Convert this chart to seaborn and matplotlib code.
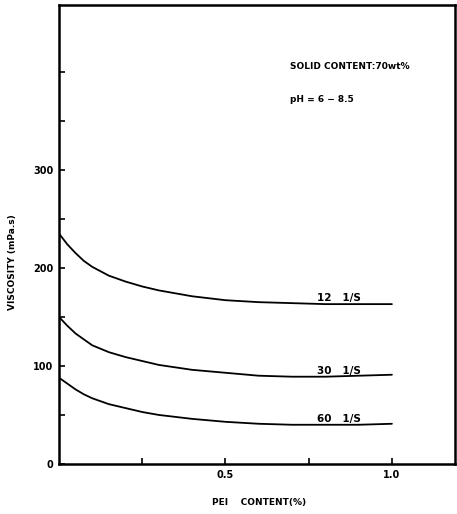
import numpy as np
import pandas as pd
import matplotlib
matplotlib.use("Agg")
import matplotlib.pyplot as plt
import seaborn as sns

pei_content = [0.0, 0.025, 0.05, 0.075, 0.1, 0.15, 0.2, 0.25, 0.3, 0.4, 0.5, 0.6, 0.7, 0.8, 0.9, 1.0]
visc_12 = [235, 224, 215, 207, 201, 192, 186, 181, 177, 171, 167, 165, 164, 163, 163, 163]
visc_30 = [150, 141, 133, 127, 121, 114, 109, 105, 101, 96, 93, 90, 89, 89, 90, 91]
visc_60 = [88, 82, 76, 71, 67, 61, 57, 53, 50, 46, 43, 41, 40, 40, 40, 41]
series_labels = ["12   1/S", "30   1/S", "60   1/S"]
x_ticks = [0.5, 1.0]
x_tick_labels = ["0.5", "1.0"]
y_ticks = [0, 100, 200, 300]

df = pd.concat([
    pd.DataFrame({"x": pei_content, "y": v, "s": lab})
    for v, lab in zip([visc_12, visc_30, visc_60], series_labels)
])

sns.set_theme(style="ticks")
plt.rcParams["font.family"] = ["DejaVu Sans"]
plt.rcParams["text.color"] = "black"
plt.rcParams["axes.labelcolor"] = "black"
plt.rcParams["xtick.color"] = "black"
plt.rcParams["ytick.color"] = "black"

fig = plt.figure(figsize=(4.57, 5.14), dpi=100)
ax = fig.add_axes([0.129, 0.0973, 0.867, 0.893])
sns.lineplot(data=df, x="x", y="y", hue="s", palette=["black"] * 3,
             linewidth=1.3, legend=False, ax=ax, sort=True)

ax.set_xlim(0, 1.19)
ax.set_ylim(0, 468)
ax.set_xticks(x_ticks)
ax.set_xticklabels(x_tick_labels)
ax.set_xticks([0.25, 0.75], minor=True)
ax.set_yticks(y_ticks)
ax.set_yticks([50, 150, 250, 350, 400], minor=True)
ax.tick_params(axis="both", which="both", direction="in", length=4, width=1.2,
               labelsize=7, pad=4, color="black")
for lab in ax.get_xticklabels() + ax.get_yticklabels():
    lab.set_fontweight("bold")
for sp in ax.spines.values():
    sp.set_linewidth(1.8)
    sp.set_color("black")

ax.set_xlabel("PEI    CONTENT(%)", fontsize=6.5, fontweight="bold")
ax.set_ylabel("VISCOSITY (mPa.s)", fontsize=6.5, fontweight="bold")
ax.xaxis.set_label_coords(0.505, -0.074)
ax.yaxis.set_label_coords(-0.107, 0.44)

# curve labels
for v, lab in zip([visc_12, visc_30, visc_60], series_labels):
    ax.text(0.775, v[-3] + 1, lab, fontsize=7.5, fontweight="bold", ha="left", va="bottom")

ax.text(0.695, 405, "SOLID CONTENT:70wt%", fontsize=6.5, fontweight="bold", va="center")
ax.text(0.695, 372, "pH = 6 − 8.5", fontsize=6.5, fontweight="bold", va="center")

fig.savefig("out.png", dpi=100)
